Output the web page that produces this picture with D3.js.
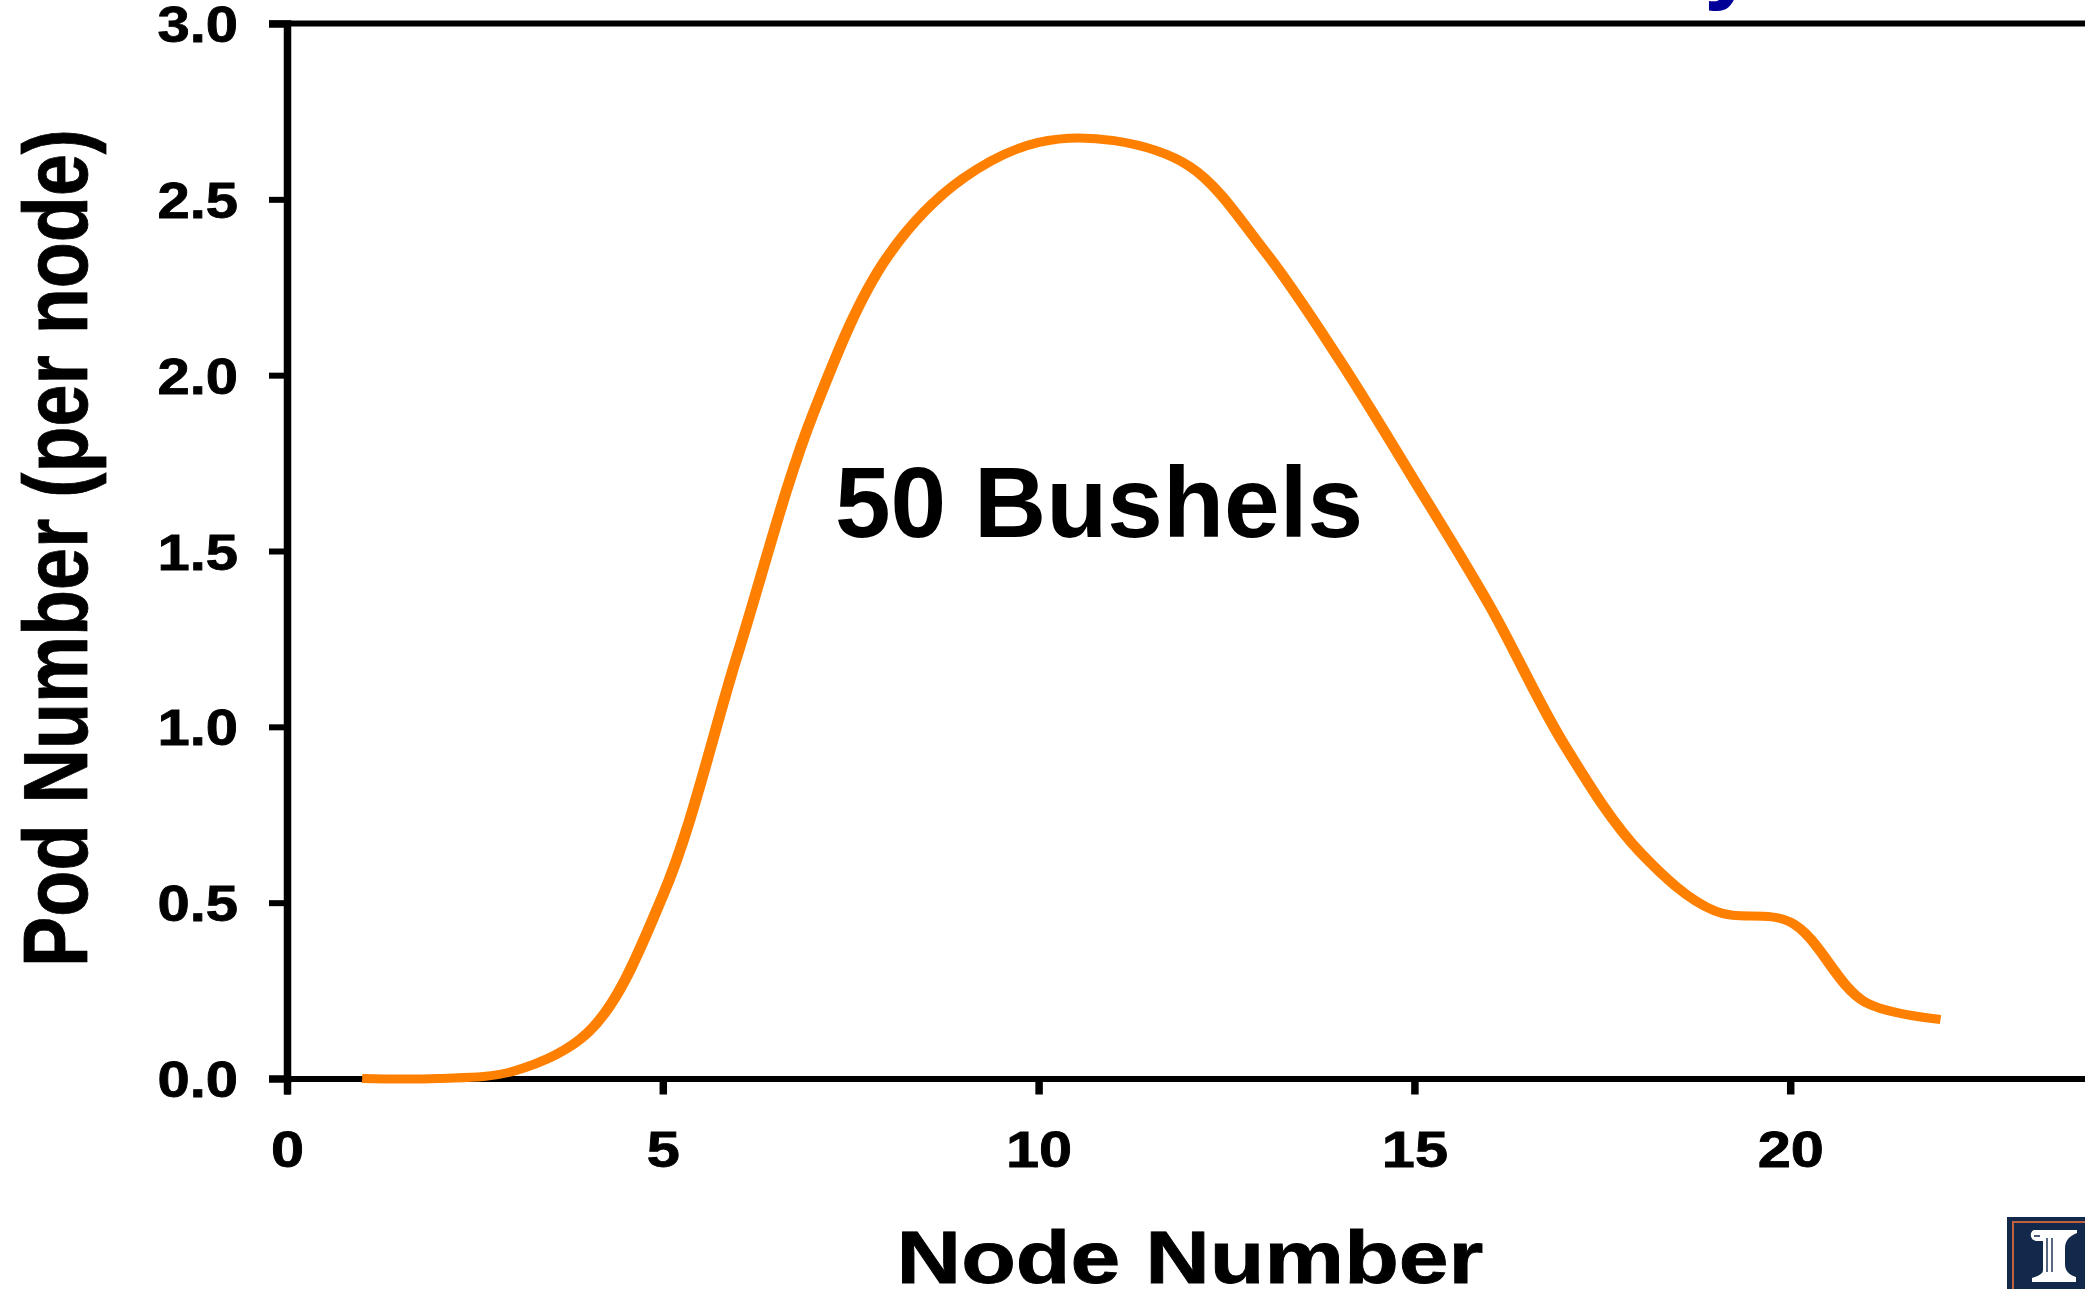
<!DOCTYPE html>
<html>
<head>
<meta charset="utf-8">
<script src="https://cdn.jsdelivr.net/npm/d3@7"></script>
<style>
  html, body { margin: 0; padding: 0; background: #fff; overflow: hidden; }
  text { font-family: "Liberation Sans", Arial, sans-serif; font-weight: bold; fill: #000; }
  .heavy { stroke: #000; stroke-width: 0.8px; }
</style>
</head>
<body>
<div id="chart"></div>
<script>
  /// DATA
  const nodes = [1, 2, 3, 4, 5, 6, 7, 8, 9, 10, 11, 12, 13, 14, 15, 16, 17, 18, 19, 20, 21, 22];
  const podNumber = [0, 0, 0.02, 0.13, 0.52, 1.21, 1.89, 2.34, 2.56, 2.662, 2.667, 2.595, 2.355, 2.045, 1.70, 1.345, 0.947, 0.644, 0.476, 0.445, 0.217, 0.168];
  const xTicks = [0, 5, 10, 15, 20];
  const yTicks = [0, 0.5, 1, 1.5, 2, 2.5, 3];
  const seriesLabel = '50 Bushels';
  const xTitle = 'Node Number';
  const yTitle = 'Pod Number (per node)';

  const width = 2085, height = 1289;
  const stretch = 1.25; // the source image is wider than it is tall, strokes included
  const data = nodes.map((n, i) => ({ node: n, pods: podNumber[i] }));

  /// SETUP scales (the x axis runs to 25, past the edge of the picture)
  const x = d3.scaleLinear().domain([0, 25]).range([287, 2166]);
  const y = d3.scaleLinear().domain([0, 3]).range([1078.5, 23.5]);

  const svg = d3.select('#chart').append('svg')
    .attr('width', width)
    .attr('height', height)
    .style('display', 'block');

  /// DISPLAY axes
  const gy = svg.append('g')
    .attr('transform', `translate(${x(0)},0)`)
    .call(d3.axisLeft(y).tickValues(yTicks).tickSize(18).tickFormat(d3.format('.1f')));
  gy.select('.domain').attr('stroke-width', 7.5).attr('stroke', '#000');
  gy.selectAll('.tick line').attr('stroke-width', 6).attr('stroke', '#000');
  gy.selectAll('.tick text')
    .attr('x', null).attr('dy', null).attr('y', null)
    .attr('class', 'heavy')
    .attr('text-anchor', 'end')
    .attr('transform', 'translate(-49,18) scale(1.16,1)')
    .style('font-size', '50px');

  const gx = svg.append('g')
    .attr('transform', `translate(0,${y(0)})`)
    .call(d3.axisBottom(x).tickValues(xTicks).tickSize(16).tickFormat(d3.format('d')));
  gx.select('.domain').attr('stroke-width', 6).attr('stroke', '#000');
  gx.selectAll('.tick line').attr('stroke-width', 7.5).attr('stroke', '#000');
  gx.selectAll('.tick text')
    .attr('x', null).attr('dy', null).attr('y', null)
    .attr('class', 'heavy')
    .attr('text-anchor', 'middle')
    .attr('transform', 'translate(0,88) scale(1.19,1)')
    .style('font-size', '50px');

  // top border
  svg.append('line')
    .attr('x1', x(0) - 18).attr('x2', width)
    .attr('y1', y(3)).attr('y2', y(3))
    .attr('stroke', '#000').attr('stroke-width', 6);

  /// BUILD line
  const line = d3.line()
    .x(d => x(d.node) / stretch)
    .y(d => y(d.pods))
    .curve(d3.curveCatmullRom.alpha(0.5));

  svg.append('path')
    .datum(data)
    .attr('d', line)
    .attr('transform', `scale(${stretch},1)`)
    .attr('fill', 'none')
    .attr('stroke', '#ff8000')
    .attr('stroke-width', 9);

  /// LABELS
  svg.append('text')
    .attr('x', 835).attr('y', 537)
    .style('font-size', '100px')
    .text(seriesLabel);

  svg.append('text')
    .attr('class', 'heavy')
    .attr('text-anchor', 'middle')
    .attr('transform', 'translate(1190,1283) scale(1.21,1)')
    .style('font-size', '74px')
    .text(xTitle);

  svg.append('text')
    .attr('class', 'heavy')
    .attr('text-anchor', 'middle')
    .attr('transform', 'translate(87,548) rotate(-90) scale(0.838,1)')
    .style('font-size', '90px')
    .text(yTitle);

  // tail of the cropped title above the chart
  svg.append('text')
    .attr('x', 1704).attr('y', -9)
    .style('font-size', '96px')
    .style('fill', '#000099')
    .text('y');

  /// LOGO, cut off by the corner of the picture
  const logo = svg.append('g');
  logo.append('rect').attr('x', 2007).attr('y', 1217).attr('width', 78).attr('height', 72).attr('fill', '#13294b');
  logo.append('rect').attr('x', 2013).attr('y', 1222).attr('width', 80).attr('height', 72)
    .attr('fill', 'none').attr('stroke', '#c0603c').attr('stroke-width', 2);
  logo.append('path')
    .attr('fill', '#fff')
    .attr('d', 'M2034,1230 H2077 V1233 C2069,1236 2065,1241 2065,1248 V1264 C2065,1271 2069,1275 2076,1277 V1282 H2032 V1278 C2038,1276 2043,1274 2043,1270 V1241 H2036 C2030,1240 2029,1232 2034,1230 Z');
  logo.append('path')
    .attr('stroke', '#13294b').attr('stroke-width', 1.4).attr('fill', 'none')
    .attr('d', 'M2047,1238 V1272 M2052,1238 V1272 M2034,1236 H2040');
</script>
</body>
</html>
